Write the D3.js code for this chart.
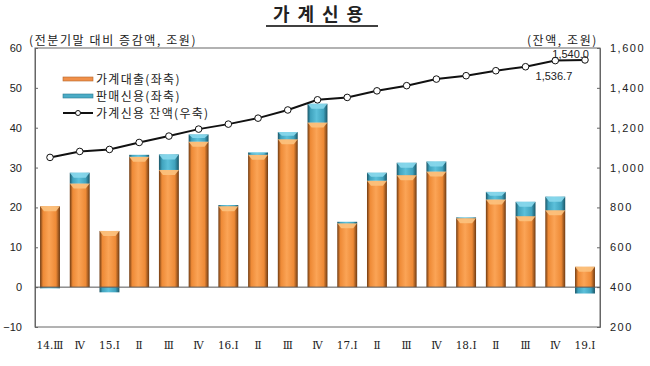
<!DOCTYPE html>
<meta charset="utf-8">
<style>
body { margin: 0; background: #fff; }
text { font-family: "Noto Sans CJK KR", "DejaVu Sans", sans-serif; fill: #222; }
.tick text { font-family: "Liberation Sans", "DejaVu Sans", sans-serif; font-size: 11px; }
</style>
<body>
<div id="chart"></div>
<script src="https://cdn.jsdelivr.net/npm/d3@7"></script>
<script>
// 분기
var quarters = ["14.Ⅲ", "Ⅳ", "15.Ⅰ", "Ⅱ", "Ⅲ", "Ⅳ", "16.Ⅰ", "Ⅱ", "Ⅲ", "Ⅳ",
                "17.Ⅰ", "Ⅱ", "Ⅲ", "Ⅳ", "18.Ⅰ", "Ⅱ", "Ⅲ", "Ⅳ", "19.Ⅰ"];
// 가계대출 증감 (조원, 좌축)
var loans = [20.3, 26.0, 14.1, 32.7, 29.4, 36.5, 20.3, 33.2, 37.1, 41.3,
             16.0, 26.7, 28.1, 29.0, 17.3, 22.0, 17.8, 19.3, 5.1];
// 판매신용 증감 (조원, 좌축)
var sales = [-0.3, 2.7, -1.3, 0.5, 3.9, 1.8, 0.3, 0.6, 1.8, 4.7,
             0.4, 2.0, 3.1, 2.5, 0.2, 1.9, 3.6, 3.4, -1.6];
// 가계신용 잔액 (조원, 우축)
var balance = [1051, 1081, 1091, 1126, 1158, 1193, 1218, 1248, 1289, 1340,
               1352, 1385, 1411, 1444, 1461, 1486, 1506, 1536.7, 1540.0];
var leftTicks = [-10, 0, 10, 20, 30, 40, 50, 60];
var rightTicks = [200, 400, 600, 800, 1000, 1200, 1400, 1600];

var svg = d3.select("#chart").append("svg")
    .attr("width", 650)
    .attr("height", 366);

var defs = svg.append("defs");
function barGrad(id, edge, mid, light) {
    var g = defs.append("linearGradient").attr("id", id)
        .attr("x1", "0%").attr("x2", "100%").attr("y1", "0%").attr("y2", "0%");
    g.append("stop").attr("offset", "0%").attr("stop-color", edge);
    g.append("stop").attr("offset", "15%").attr("stop-color", mid);
    g.append("stop").attr("offset", "45%").attr("stop-color", light);
    g.append("stop").attr("offset", "80%").attr("stop-color", mid);
    g.append("stop").attr("offset", "100%").attr("stop-color", edge);
}
barGrad("gOrange", "#6e3a12", "#ee8a36", "#fba456");
barGrad("gTeal", "#1a5566", "#3fa2bd", "#5cc0da");

// 같은 라벨(Ⅳ 등)이 반복되므로 밴드 스케일은 인덱스로
var idx = d3.range(quarters.length);
var x = d3.scaleBand().domain(idx).range([35, 600])
    .paddingInner(0.33).paddingOuter(0.17);
var yL = d3.scaleLinear().domain([-10, 60]).range([327, 48]);
var yR = d3.scaleLinear().domain([200, 1600]).range([327, 48]);
function cx(i) { return x(i) + x.bandwidth() / 2; }

// 제목
svg.append("text").attr("x", 322).attr("y", 21)
    .attr("text-anchor", "middle")
    .style("font-size", "18px").style("font-weight", "bold")
    .style("letter-spacing", "8px")
    .text("가계신용");
svg.append("line").attr("x1", 266).attr("x2", 378).attr("y1", 26).attr("y2", 26)
    .attr("stroke", "#000").attr("stroke-width", 1.5);

svg.append("text").attr("x", 29).attr("y", 45)
    .style("font-size", "12px").style("letter-spacing", "1.6px")
    .text("(전분기말 대비 증감액, 조원)");
svg.append("text").attr("x", 598).attr("y", 45).attr("text-anchor", "end")
    .style("font-size", "12px").style("letter-spacing", "1.6px")
    .text("(잔액, 조원)");

// 틀
svg.append("rect").attr("x", 35).attr("y", 48).attr("width", 565).attr("height", 279)
    .attr("fill", "none").attr("stroke", "#666").attr("stroke-width", 1);

// 좌축
var gl = svg.append("g").attr("transform", "translate(35,0)")
    .call(d3.axisLeft(yL).tickValues(leftTicks).tickSize(-3).tickPadding(13));
gl.select(".domain").attr("stroke", "#666");
gl.selectAll(".tick line").attr("stroke", "#666");

// 우축
var gr = svg.append("g").attr("transform", "translate(600,0)")
    .call(d3.axisRight(yR).tickValues(rightTicks).tickSize(-3).tickPadding(10)
        .tickFormat(d3.format(",")));
gr.select(".domain").attr("stroke", "#666");
gr.selectAll(".tick line").attr("stroke", "#666");
gr.selectAll(".tick text").style("letter-spacing", "1.5px");

// x축 라벨
var gx = svg.append("g").attr("transform", "translate(0,327)")
    .call(d3.axisBottom(x).tickSize(0).tickPadding(15)
        .tickFormat(function (i) { return quarters[i]; }));
gx.select(".domain").remove();
gx.selectAll(".tick text").style("font-family", "\"DejaVu Serif\", serif").style("font-size", "10.5px");

// 막대
function drawBar(i, v0, v1, grad, bevel) {
    var top = Math.min(yL(v0), yL(v1)), h = Math.abs(yL(v0) - yL(v1));
    var bx = x(i), bw = x.bandwidth();
    svg.append("rect").attr("x", bx).attr("y", top).attr("width", bw).attr("height", h)
        .attr("fill", "url(#" + grad + ")");
    if (v1 > v0 && h > 2) {
        var bh = Math.min(5, h / 2);
        svg.append("path")
            .attr("d", "M" + bx + "," + top + "L" + (bx + bw) + "," + top +
                "L" + (bx + bw - 4) + "," + (top + bh) + "L" + (bx + 4) + "," + (top + bh) + "Z")
            .attr("fill", bevel).attr("opacity", 0.9);
    }
}
idx.forEach(function (i) {
    drawBar(i, 0, loans[i], "gOrange", "#fcc27e");
    if (sales[i] >= 0) drawBar(i, loans[i], loans[i] + sales[i], "gTeal", "#8ad8ec");
    else drawBar(i, 0, sales[i], "gTeal", "#8ad8ec");
});

// 0선
svg.append("line").attr("x1", 35).attr("x2", 600).attr("y1", yL(0)).attr("y2", yL(0))
    .attr("stroke", "#555").attr("stroke-width", 1);

// 잔액 선
var line = d3.line()
    .x(function (d, i) { return cx(i); })
    .y(function (d) { return yR(d); });
svg.append("path").datum(balance).attr("d", line)
    .attr("fill", "none").attr("stroke", "#111").attr("stroke-width", 2);
svg.selectAll(".pt").data(balance).enter().append("circle")
    .attr("cx", function (d, i) { return cx(i); })
    .attr("cy", function (d) { return yR(d); })
    .attr("r", 3.3).attr("fill", "#fff").attr("stroke", "#111").attr("stroke-width", 1);

var n = balance.length;
svg.append("text").attr("x", cx(n - 1) + 4).attr("y", 58)
    .attr("text-anchor", "end").style("font-family", "\"Liberation Sans\", sans-serif")
    .style("font-size", "11px").text(d3.format(",.1f")(balance[n - 1]));
svg.append("text").attr("x", cx(n - 2) + 17).attr("y", 80)
    .attr("text-anchor", "end").style("font-family", "\"Liberation Sans\", sans-serif")
    .style("font-size", "11px").text(d3.format(",.1f")(balance[n - 2]));

// 범례
var legend = [
    { label: "가계대출(좌축)", color: "#f0904a", edge: "#b5652a" },
    { label: "판매신용(좌축)", color: "#4bacc6", edge: "#2b7a90" },
    { label: "가계신용 잔액(우축)", color: null }
];
legend.forEach(function (d, i) {
    var ly = 79 + i * 17;
    if (d.color) {
        svg.append("rect").attr("x", 63).attr("y", ly - 2).attr("width", 30).attr("height", 4)
            .attr("fill", d.color).attr("stroke", d.edge).attr("stroke-width", 0.6);
    } else {
        svg.append("line").attr("x1", 63).attr("x2", 93).attr("y1", ly).attr("y2", ly)
            .attr("stroke", "#111").attr("stroke-width", 2);
        svg.append("circle").attr("cx", 78).attr("cy", ly).attr("r", 2.5)
            .attr("fill", "#fff").attr("stroke", "#111");
    }
    svg.append("text").attr("x", 96).attr("y", ly + 4.5)
        .style("font-size", "12px").style("letter-spacing", "1.3px").text(d.label);
});
</script>
</body>
